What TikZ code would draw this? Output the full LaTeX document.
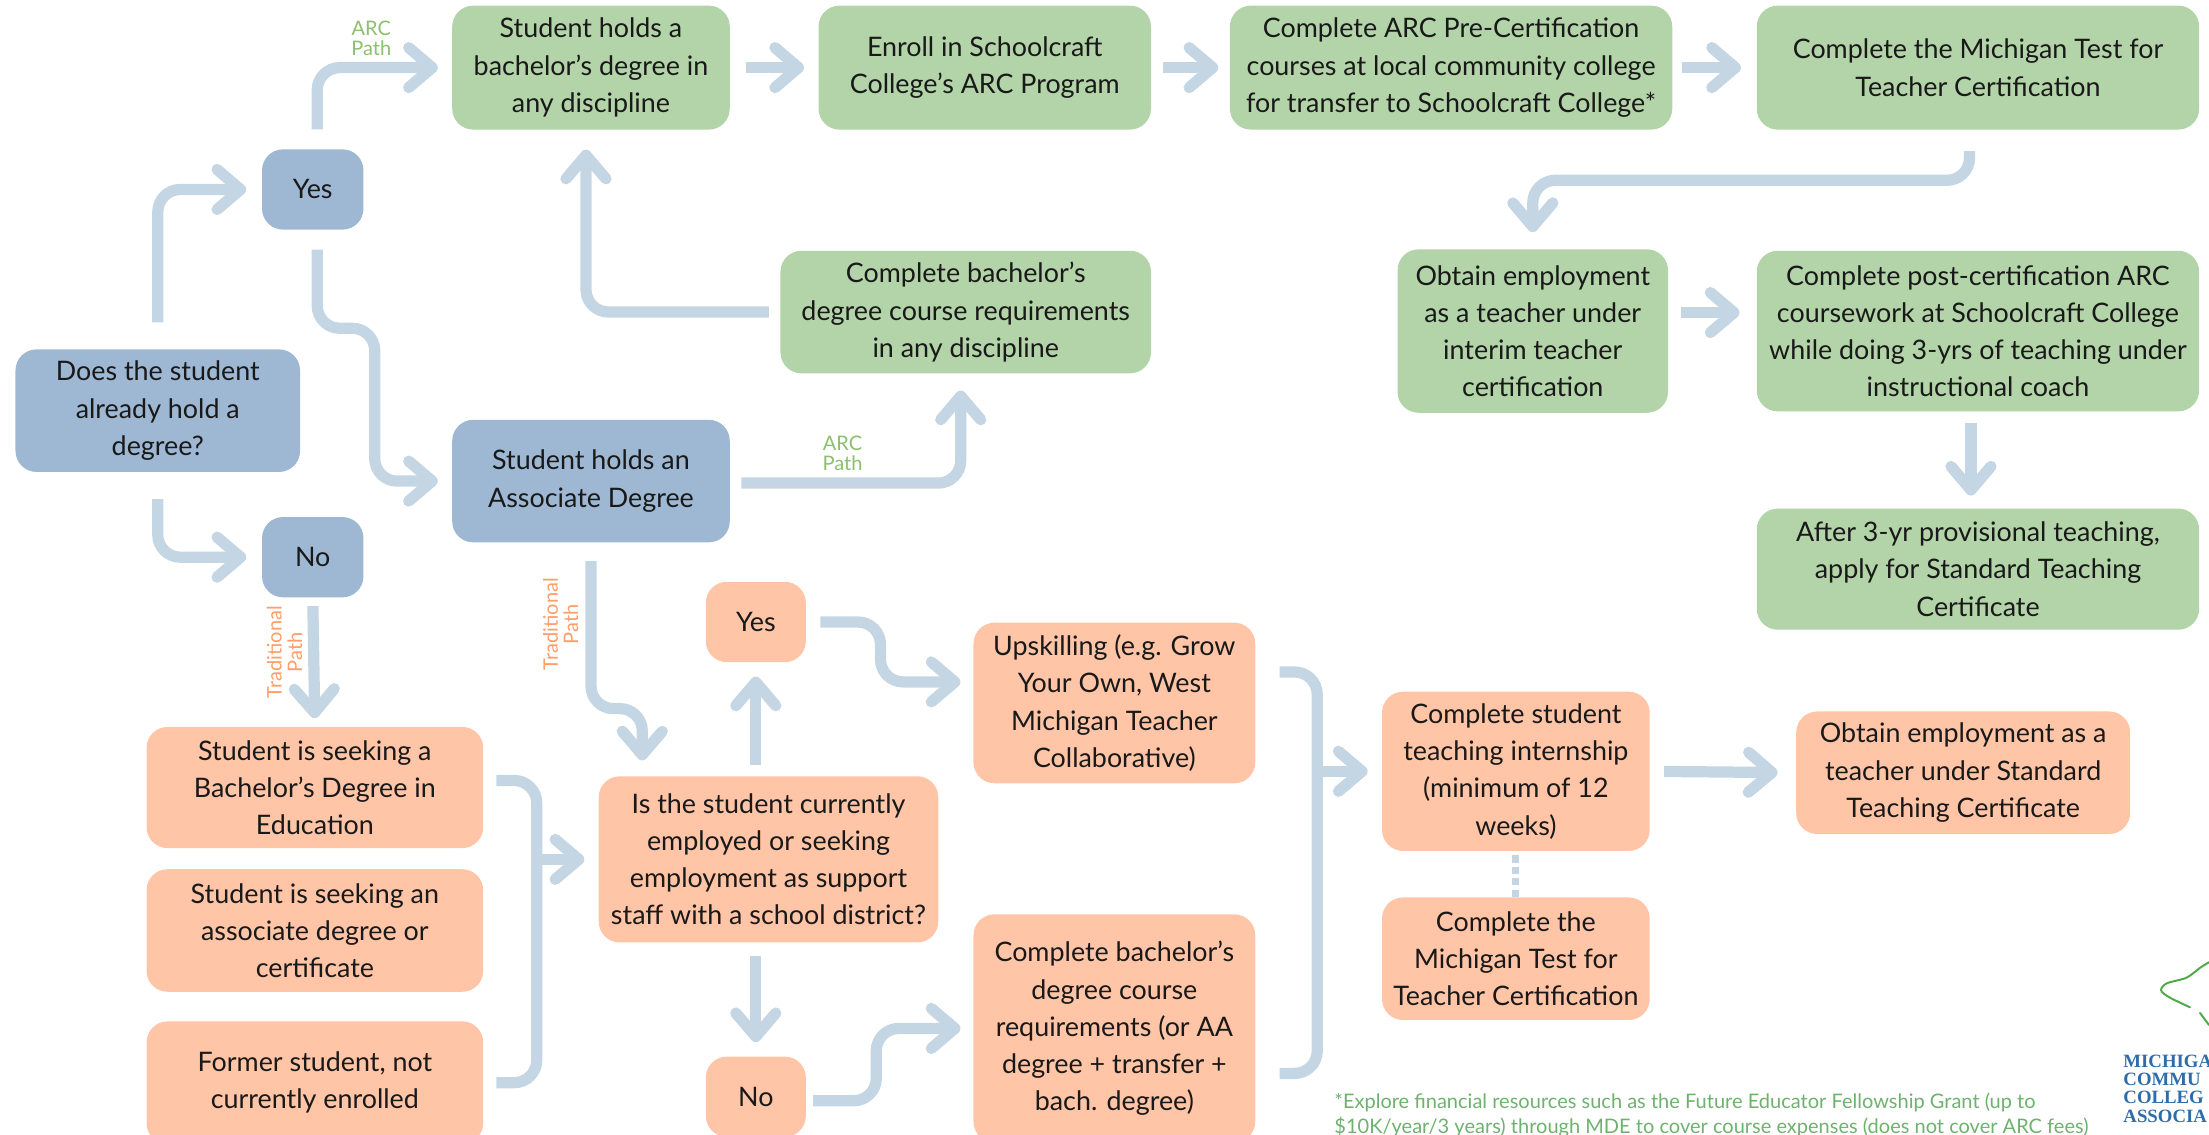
\documentclass[tikz,border=0pt]{standalone}
\usepackage{fontspec}
\setmainfont{Lato}
\newfontfamily\logofont{Liberation Serif}
\usetikzlibrary{arrows.meta}
\definecolor{boxgreen}{HTML}{B3D4A8}
\definecolor{boxblue}{HTML}{9EB8D3}
\definecolor{boxorange}{HTML}{FFC5A6}
\definecolor{flowblue}{HTML}{C4D5E3}
\definecolor{pathgreen}{HTML}{8CBF6E}
\definecolor{pathorange}{HTML}{FF9E68}
\definecolor{notegreen}{HTML}{6DB26D}
\definecolor{logoblue}{HTML}{2F6DA8}
\definecolor{logogreen}{HTML}{4FA845}
\def\ux{0.0282cm}
\tikzset{
    boxsize/.style 2 args={minimum width=#1*\ux, minimum height=#2*\ux},
    stepbox/.style={rounded corners=0.42cm, align=center, inner sep=0pt, text=black!90,
        font=\fontsize{15.3}{21.2}\selectfont},
    greenbox/.style={stepbox, fill=boxgreen},
    bluebox/.style={stepbox, fill=boxblue},
    orangebox/.style={stepbox, fill=boxorange},
    flow/.style={draw=flowblue, line width=6.4pt, rounded corners=0.45cm,
        -{Straight Barb[round, length=0.47cm, width=0.8cm]}},
    bracket/.style={draw=flowblue, line width=6.4pt, rounded corners=0.45cm},
    pathlabel/.style={align=center, inner sep=0pt, font=\fontsize{11.4}{11.6}\selectfont},
}
\begin{document}
\begin{tikzpicture}[x=0.0282cm, y=-0.0282cm]
    \path[use as bounding box, clip] (0,0) rectangle (1568,805.6);

    % question column
    \node[bluebox, boxsize={202}{87}] (does) at (112,291.5) {Does the student\\already hold a\\degree?};
    \node[bluebox, boxsize={72}{57}] (yes) at (222,134.5) {Yes};
    \node[bluebox, boxsize={72}{57}] (no) at (222,395.5) {No};

    % green path
    \node[greenbox, boxsize={197}{88}] (bach) at (419.5,48) {Student holds a\\bachelor’s degree in\\any discipline};
    \node[greenbox, boxsize={236}{88}] (enroll) at (699,48) {Enroll in Schoolcraft\\College’s ARC Program};
    \node[greenbox, boxsize={314}{88}] (precert) at (1030,48) {Complete ARC Pre-Certification\\courses at local community college\\for transfer to Schoolcraft College*};
    \node[greenbox, boxsize={314}{88}] (mttcgreen) at (1404,48) {Complete the Michigan Test for\\Teacher Certification};
    \node[greenbox, boxsize={263}{87}] (coursegreen) at (685.5,221.5) {Complete bachelor’s\\degree course requirements\\in any discipline};
    \node[greenbox, boxsize={192}{116}] (interim) at (1088,235) {Obtain employment\\as a teacher under\\interim teacher\\certification};
    \node[greenbox, boxsize={314}{114}] (postcert) at (1404,235) {Complete post-certification ARC\\coursework at Schoolcraft College\\while doing 3-yrs of teaching under\\instructional coach};
    \node[greenbox, boxsize={314}{86}] (standard) at (1404,404) {After 3-yr provisional teaching,\\apply for Standard Teaching\\Certificate};
    \node[bluebox, boxsize={197}{87}] (assoc) at (419.5,341.5) {Student holds an\\Associate Degree};

    % orange path
    \node[orangebox, boxsize={239}{86}] (seekbach) at (223.5,559) {Student is seeking a\\Bachelor’s Degree in\\Education};
    \node[orangebox, boxsize={239}{87}] (seekassoc) at (223.5,660.5) {Student is seeking an\\associate degree or\\certificate};
    \node[orangebox, boxsize={239}{87}] (former) at (223.5,768.5) {Former student, not\\currently enrolled};
    \node[orangebox, boxsize={241}{118}] (support) at (545.5,610) {Is the student currently\\employed or seeking\\employment as support\\staff with a school district?};
    \node[orangebox, boxsize={71}{57}] (yestwo) at (536.5,441.5) {Yes};
    \node[orangebox, boxsize={71}{57}] (notwo) at (536.5,778.5) {No};
    \node[orangebox, boxsize={200}{114}] (upskill) at (791,499) {Upskilling (e.g. Grow\\Your Own, West\\Michigan Teacher\\Collaborative)};
    \node[orangebox, boxsize={200}{162}] (courseorange) at (791,730) {Complete bachelor’s\\degree course\\requirements (or AA\\degree + transfer +\\bach. degree)};
    \node[orangebox, boxsize={190}{113}] (intern) at (1076,547.5) {Complete student\\teaching internship\\(minimum of 12\\weeks)};
    \node[orangebox, boxsize={190}{87}] (mttcorange) at (1076,680.5) {Complete the\\Michigan Test for\\Teacher Certification};
    \node[orangebox, boxsize={237}{87}] (employ) at (1393.5,548.5) {Obtain employment as a\\teacher under Standard\\Teaching Certificate};

    % connectors
    \draw[flow, shorten <=19*\ux, shorten >=11*\ux] (does.north) |- (yes.west);
    \draw[flow, shorten <=19*\ux, shorten >=11*\ux] (does.south) |- (no.west);
    \draw[flow, shorten <=14*\ux, shorten >=10*\ux] ([xshift=0.09cm]yes.north) |- (bach.west);
    \draw[flow, shorten <=14*\ux, shorten >=10*\ux] ([xshift=0.09cm]yes.south) |- (266,233) |- (assoc.west);
    \draw[flow, shorten <=6*\ux, shorten >=6*\ux] (no.south) -- (seekbach.north);
    \draw[flow, shorten <=11*\ux, shorten >=10*\ux] (bach.east) -- (enroll.west);
    \draw[flow, shorten <=8*\ux, shorten >=8*\ux] (enroll.east) -- (precert.west);
    \draw[flow, shorten <=7*\ux, shorten >=11*\ux] (precert.east) -- (mttcgreen.west);
    \draw[flow, shorten <=15*\ux, shorten >=12*\ux] (mttcgreen.south) ++(-6,0) |- (1088,128) -- (interim.north);
    \draw[flow, shorten <=9*\ux, shorten >=12*\ux] ([yshift=0.37cm]interim.east) -- ([yshift=0.37cm]postcert.west);
    \draw[flow, shorten <=8*\ux, shorten >=9*\ux] ([xshift=-0.14cm]postcert.south) -- ([xshift=-0.14cm]standard.north);
    \draw[flow, shorten <=8*\ux, shorten >=14*\ux] (coursegreen.west) -| ([xshift=-0.1cm]bach.south);
    \draw[flow, shorten <=8*\ux, shorten >=12*\ux] ([yshift=-0.04cm]assoc.east) -| ([xshift=-0.1cm]coursegreen.south);
    \draw[flow, shorten <=13*\ux, shorten >=11*\ux] (assoc.south) |- (456,503) -- ([xshift=-2.53cm]support.north);

    \coordinate (seekjoin) at (381,610);
    \draw[bracket, shorten <=9*\ux, shorten >=9*\ux] ([yshift=0.14cm]seekbach.east) -| (seekjoin) |- (former.east);
    \draw[flow, shorten >=10*\ux] (seekjoin) -- (support.west);
    \draw[flow, shorten <=8*\ux, shorten >=10*\ux] (yestwo.south |- support.north) -- (yestwo.south);
    \draw[flow, shorten <=9*\ux, shorten >=10*\ux] (notwo.north |- support.south) -- (notwo.north);
    \draw[flow, shorten <=10*\ux, shorten >=9*\ux] (yestwo.east) -| (625,484) -- ([yshift=0.42cm]upskill.west);
    \draw[flow, shorten <=5*\ux, shorten >=9*\ux] ([yshift=-0.08cm]notwo.east) -| (622,730) -- (courseorange.west);

    \coordinate (upjoin) at (935,547.5);
    \draw[bracket, shorten <=17*\ux, shorten >=17*\ux] ([yshift=0.62cm]upskill.east) -| (upjoin) |- ([yshift=-0.9cm]courseorange.east);
    \draw[flow, shorten >=10*\ux] (upjoin) -- (intern.west);
    \draw[flow, shorten <=10*\ux, shorten >=13*\ux] (intern.east) -- (employ.west);
    \draw[draw=flowblue, line width=4pt, dash pattern=on 4pt off 2.5pt, shorten <=3*\ux] (intern.south) -- (mttcorange.north);

    % path labels
    \node[pathlabel, text=pathgreen] (arctop) at (263.5,27) {ARC\\Path};
    \node[pathlabel, text=pathgreen] (arcmid) at (598,322) {ARC\\Path};
    \node[pathlabel, text=pathorange, rotate=90] (tradleft) at (202,463) {Traditional\\Path};
    \node[pathlabel, text=pathorange, rotate=90] (tradmid) at (398,443) {Traditional\\Path};

    % footnote
    \node[align=left, anchor=north west, inner sep=0pt, text=notegreen, font=\fontsize{11.4}{14.2}\selectfont] (note) at (947,775.5)
        {*Explore financial resources such as the Future Educator Fellowship Grant (up to\\\$10K/year/3 years) through MDE to cover course expenses (does not cover ARC fees)};

    % logo
    \draw[logogreen, line width=1.1pt, line cap=round] plot[smooth] coordinates {(1568,683) (1561.6,687) (1552,694) (1538,698) (1534,703) (1540,708) (1554.5,715)};
    \draw[logogreen, line width=1.1pt, line cap=round] (1561.6,719) -- (1568,727.6);
    \node[align=left, anchor=north west, inner sep=0pt, text=logoblue, font=\logofont\bfseries\fontsize{10.7}{10.4}\selectfont] (logo) at (1507,748.5)
        {MICHIGA\\COMMU\\COLLEG\\ASSOCIA};
\end{tikzpicture}
\end{document}
